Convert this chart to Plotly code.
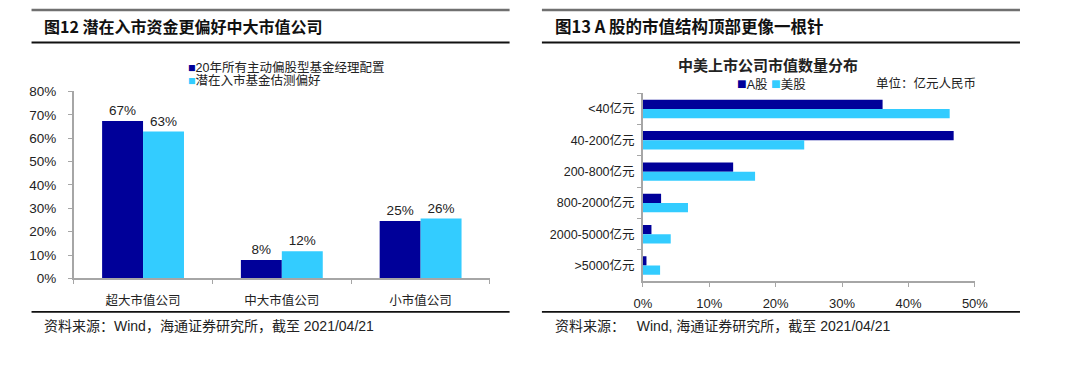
import plotly.graph_objects as go

# ---------------- data ----------------
left_categories = ["超大市值公司", "中大市值公司", "小市值公司"]
left_series_names = ["20年所有主动偏股型基金经理配置", "潜在入市基金估测偏好"]
left_manager_alloc = [0.673, 0.079, 0.246]
left_potential_pref = [0.628, 0.116, 0.256]
left_yticks = [0, 0.1, 0.2, 0.3, 0.4, 0.5, 0.6, 0.7, 0.8]

right_categories = ["<40亿元", "40-200亿元", "200-800亿元", "800-2000亿元", "2000-5000亿元", ">5000亿元"]
right_series_names = ["A股", "美股"]
right_a_share = [0.361, 0.468, 0.136, 0.0275, 0.013, 0.0055]
right_us_share = [0.462, 0.243, 0.169, 0.068, 0.042, 0.026]
right_xticks = [0, 0.1, 0.2, 0.3, 0.4, 0.5]

# ---------------- style ----------------
W, H = 1080, 366
DARK = "#000099"
LIGHT = "#33CCFF"
AXIS = "#A6A6A6"
LAT = "Liberation Sans, Arial, Noto Sans CJK SC, sans-serif"
CJK = "Noto Sans CJK SC, Liberation Sans, sans-serif"


def px(x):
    return x / W


def py(y):
    return 1 - y / H


fig = go.Figure()

# left chart bars
fig.add_trace(go.Bar(x=left_categories, y=left_manager_alloc, name=left_series_names[0],
                     marker=dict(color=DARK, line=dict(width=0)),
                     texttemplate="%{y:.0%}", textposition="outside",
                     textfont=dict(family=LAT, size=13.5, color="#222"),
                     cliponaxis=False, xaxis="x", yaxis="y", showlegend=False))
fig.add_trace(go.Bar(x=left_categories, y=left_potential_pref, name=left_series_names[1],
                     marker=dict(color=LIGHT, line=dict(width=0)),
                     texttemplate="%{y:.0%}", textposition="outside",
                     textfont=dict(family=LAT, size=13.5, color="#222"),
                     cliponaxis=False, xaxis="x", yaxis="y", showlegend=False))

# right chart bars
fig.add_trace(go.Bar(y=right_categories, x=right_a_share, name=right_series_names[0],
                     orientation="h", marker=dict(color=DARK, line=dict(width=0)),
                     xaxis="x2", yaxis="y2", showlegend=False))
fig.add_trace(go.Bar(y=right_categories, x=right_us_share, name=right_series_names[1],
                     orientation="h", marker=dict(color=LIGHT, line=dict(width=0)),
                     xaxis="x2", yaxis="y2", showlegend=False))

axis_common = dict(showline=True, linecolor=AXIS, linewidth=1.5, ticks="outside",
                   tickcolor=AXIS, ticklen=4, tickwidth=1, showgrid=False, zeroline=False,
                   fixedrange=True)

fig.update_layout(
    width=W, height=H,
    margin=dict(l=0, r=0, t=0, b=0),
    paper_bgcolor="white", plot_bgcolor="white",
    barmode="group", bargap=0.41, bargroupgap=0,
    xaxis=dict(domain=[px(66), px(491)], anchor="y", tickson="boundaries",
               tickfont=dict(family=CJK, size=12.5, color="#222"), ticklabelstandoff=10,
               **axis_common),
    yaxis=dict(domain=[py(283), py(88)], anchor="x", range=[0, 0.8], tickvals=left_yticks,
               tickformat=".0%", tickfont=dict(family=LAT, size=13.5, color="#222"),
               ticklabelstandoff=9, **axis_common),
    xaxis2=dict(domain=[px(647), px(986)], anchor="y2", range=[0, 0.5], tickvals=right_xticks,
                tickformat=".0%", tickfont=dict(family=LAT, size=13, color="#222"),
                ticklabelstandoff=5, **axis_common),
    yaxis2=dict(domain=[py(286), py(90)], anchor="x2", autorange="reversed",
                tickson="boundaries", tickfont=dict(family=LAT, size=12.5, color="#222"),
                ticklabelstandoff=4, **axis_common),
)

shapes = []
for x0, x1 in [(23, 511), (544, 1032)]:
    shapes.append(dict(type="line", xref="paper", yref="paper", x0=px(x0), x1=px(x1),
                       y0=py(3), y1=py(3), line=dict(color="#707070", width=2.5)))
    shapes.append(dict(type="line", xref="paper", yref="paper", x0=px(x0), x1=px(x1),
                       y0=py(37), y1=py(37), line=dict(color="#111", width=1.8)))
    shapes.append(dict(type="line", xref="paper", yref="paper", x0=px(x0), x1=px(x1),
                       y0=py(318), y1=py(318), line=dict(color="#111", width=1.8)))
fig.update_layout(shapes=shapes)

ann = []


def text(x, y, s, size=13, family=CJK, xanchor="left", color="#222"):
    ann.append(dict(xref="paper", yref="paper", x=px(x), y=py(y), text=s, showarrow=False,
                    xanchor=xanchor, yanchor="middle", font=dict(family=family, size=size, color=color)))


# titles
text(34, 20, "<b>图12 潜在入市资金更偏好中大市值公司</b>", size=16, family=CJK, color="#111")
text(555, 20, "<b>图13 A 股的市值结构顶部更像一根针</b>", size=16.5, family=CJK, color="#111")

# left legend
text(181, 63, f"<span style='color:{DARK}'>■</span>{left_series_names[0]}", size=12.5, family=LAT)
text(181, 77, f"<span style='color:{LIGHT}'>■</span>{left_series_names[1]}", size=12.5, family=LAT)

# right chart title, legend, unit
text(775, 60, "<b>中美上市公司市值数量分布</b>", size=15, family=CJK, xanchor="center", color="#222")
text(741, 80, f"<span style='color:{DARK};font-size:16px'>■</span>{right_series_names[0]} "
              f"<span style='color:{LIGHT};font-size:16px'>■</span>{right_series_names[1]}",
     size=12.5, family=LAT)
text(883, 79, "单位：亿元人民币", size=12.5, family=CJK)

# sources
text(34, 333, "资料来源：Wind，海通证券研究所，截至 2021/04/21", size=14, family=LAT)
text(555, 333, "资料来源：   Wind, 海通证券研究所，截至 2021/04/21", size=14, family=LAT)

fig.update_layout(annotations=ann)

fig.write_html("out.html", config={"displayModeBar": False},
               post_script="document.body.style.margin='0';")
